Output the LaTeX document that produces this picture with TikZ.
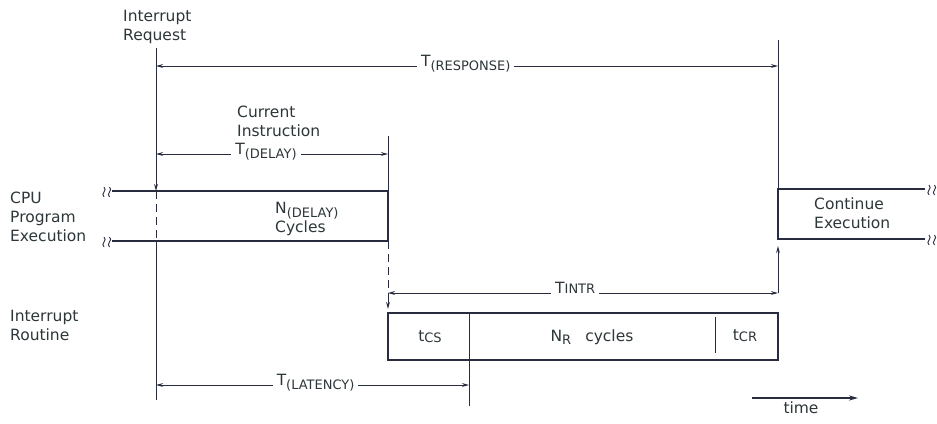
\documentclass[tikz,border=0pt]{standalone}
\usepackage{fontspec}
\setmainfont{DejaVu Sans}
\usetikzlibrary{arrows.meta}
\definecolor{ink}{RGB}{40,44,62}
\definecolor{txt}{RGB}{45,54,56}
\newcommand\sbs[2][4pt]{\raisebox{-#1}{\fontsize{13}{13}\selectfont #2}}
\begin{document}
\begin{tikzpicture}[x=1pt,y=-1pt,color=ink,
  lbl/.style={font=\fontsize{15.5}{19}\selectfont,text=txt,inner sep=0pt,align=left},
  dlbl/.style={lbl,fill=white,inner xsep=4pt,inner ysep=1pt,anchor=base},
  arr/.style={-{Stealth[length=7pt,width=3.8pt]}},
  dim/.style={{Stealth[length=7pt,width=3.8pt]}-{Stealth[length=7pt,width=3.8pt]},line width=0.9pt},
  guide/.style={line width=1pt},
  boxline/.style={line width=1.6pt},
  wig/.style={line width=0.9pt}]
\useasboundingbox[fill=white] (0,0) rectangle (937,423);

% marker coordinates
\coordinate (A0) at (156,48);
\coordinate (A1) at (156,191);
\coordinate (A2) at (156,241);
\coordinate (A3) at (156,400);
\coordinate (B0) at (388,136);
\coordinate (B1) at (388,191);
\coordinate (B2) at (388,241);
\coordinate (B3) at (388,293);
\coordinate (B4) at (388,309);
\coordinate (B5) at (388,313);
\coordinate (C0) at (469,313);
\coordinate (C2) at (469,406);
\coordinate (E0) at (715,317);
\coordinate (E1) at (715,353);
\coordinate (D0) at (778,40);
\coordinate (D1) at (778,189);
\coordinate (D2) at (778,239);
\coordinate (D3) at (778,293);
\coordinate (D4) at (778,246);
\coordinate (D5) at (778,360);
\coordinate (P0) at (112,191);
\coordinate (P1) at (112,241);
\coordinate (Q0) at (925,189);
\coordinate (Q1) at (925,239);
\coordinate (R0) at (156,66);
\coordinate (R1) at (778,66);
\coordinate (S0) at (156,154);
\coordinate (S1) at (388,154);
\coordinate (L0) at (156,385);
\coordinate (L1) at (469,385);
\coordinate (T0) at (752,398);
\coordinate (T1) at (858,398);

% boxes
\draw[boxline] (P0) -- (B1) -- (B2) -- (P1);
\draw[boxline] (Q0) -- (D1) -- (D2) -- (Q1);
\draw[boxline] (B5) rectangle (D5);
\draw[guide] (C0) -- (C2);
\draw[guide] (E0) -- (E1);

% squiggles
\foreach \x/\y in {104/192,109.5/192,104/242,109.5/242,929/190,934.5/190,929/240,934.5/240}
  \draw[wig] (\x,\y-5) .. controls (\x+4,\y-2) and (\x-4,\y+2) .. (\x,\y+5);

% marker lines
\draw[guide,arr] (A0) -- (A1);
\draw[guide,dash pattern=on 8pt off 5pt] (A1) -- (A2);
\draw[guide] (A2) -- (A3);
\draw[guide] (B0) -- (B1);
\draw[guide,dash pattern=on 8pt off 5pt] (B2) -- (B3);
\draw[guide,arr] (B3) -- (B4);
\draw[guide] (D0) -- (D1);
\draw[guide,arr] (D3) -- (D4);

% dimension lines
\draw[dim] (R0) -- (R1) node[dlbl,pos=.498] (tresp) {T\sbs{(RESPONSE)}};
\draw[dim] (S0) -- (S1) node[dlbl,pos=.474] (tdel) {T\sbs{(DELAY)}};
\draw[dim] (B3) -- (D3) node[dlbl,pos=.48] (tintr) {T\sbs[0.5pt]{INTR}};
\draw[dim] (L0) -- (L1) node[dlbl,pos=.51] (tlat) {T\sbs{(LATENCY)}};
\draw[line width=1.4pt,-{Stealth[length=9pt,width=5pt]}] (T0) -- (T1);

% texts
\node[lbl,anchor=north west] (ir) at (123,9.5) {Interrupt\\Request};
\node[lbl,anchor=north west] (ci) at (237,106) {Current\\Instruction};
\node[lbl,anchor=north west] (cpu) at (10,191.5) {CPU\\Program\\Execution};
\node[lbl,anchor=north west] (nd) at (275,201.5) {N\sbs{(DELAY)}\\Cycles};
\node[lbl,anchor=north west] (ce) at (814,198) {Continue\\Execution};
\node[lbl,anchor=north west] (irt) at (10,310) {Interrupt\\Routine};
\node[lbl,anchor=base] (tcs) at (430,341) {t\sbs[1pt]{CS}};
\node[lbl,anchor=base] (nr) at (592,341) {N\sbs[3pt]{R}\hspace{14pt}cycles};
\node[lbl,anchor=base] (tcr) at (745,340) {t\sbs[1.5pt]{CR}};
\node[lbl,anchor=base] (tm) at (801,413) {time};
\end{tikzpicture}
\end{document}
